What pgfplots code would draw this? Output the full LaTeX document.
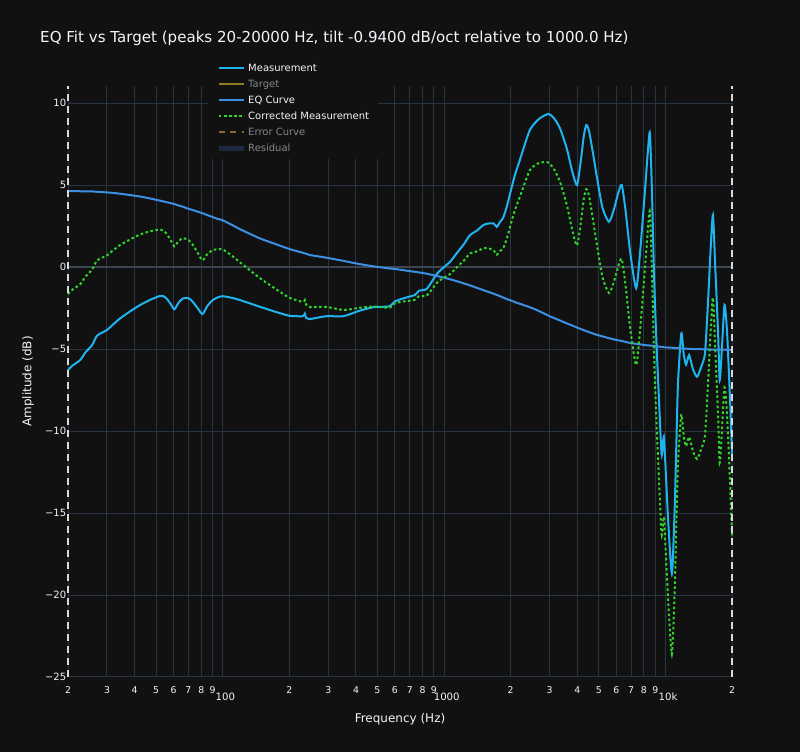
\documentclass[border=0pt]{standalone}
\usepackage{pgfplots}
\pgfplotsset{compat=1.18}
\usepackage{pgfplotstable}
\usepackage{fontspec}
\setmainfont{DejaVu Sans}
\definecolor{bg}{HTML}{111111}
\definecolor{gridc}{HTML}{283442}
\definecolor{zeroc}{HTML}{3C4552}
\definecolor{fg}{HTML}{F2F5FA}
\definecolor{dimtext}{HTML}{85878B}
\definecolor{measc}{HTML}{1FB4F0}
\definecolor{eqc}{HTML}{3C90E4}
\definecolor{corrc}{HTML}{30D42A}
\definecolor{targetc}{HTML}{8C7F22}
\definecolor{errc}{HTML}{8A6A34}
\definecolor{resc}{HTML}{1C2940}
\definecolor{vdash}{HTML}{D8D8D8}
\newcommand{\major}[1]{\raisebox{-5pt}{\hspace{4pt}\fontsize{7.6}{9}\selectfont #1}}
\pgfplotstableread{
f meas eq corr
20 -6.28 4.63 -1.65
21 -6.00 4.63 -1.37
22.7 -5.67 4.62 -1.05
24 -5.20 4.62 -0.58
25.7 -4.76 4.61 -0.15
27 -4.20 4.59 0.39
28.5 -4.00 4.57 0.57
30 -3.84 4.55 0.71
32 -3.50 4.52 1.02
34.4 -3.13 4.47 1.34
38 -2.72 4.39 1.67
42.3 -2.32 4.30 1.98
47 -2.00 4.18 2.18
50 -1.85 4.10 2.25
52 -1.77 4.05 2.28
54 -1.78 4.00 2.22
56 -1.95 3.95 2.00
58.5 -2.30 3.89 1.59
60.5 -2.58 3.84 1.26
63 -2.20 3.76 1.56
66 -1.92 3.68 1.76
70 -1.90 3.55 1.65
73 -2.10 3.48 1.38
77 -2.50 3.38 0.88
81 -2.87 3.28 0.41
85 -2.40 3.17 0.77
90 -2.02 3.05 1.03
95 -1.85 2.93 1.08
100 -1.78 2.85 1.07
110 -1.88 2.57 0.69
120 -2.02 2.30 0.28
147 -2.42 1.75 -0.67
175 -2.75 1.38 -1.37
200 -2.97 1.10 -1.87
230 -3.00 0.87 -2.13
235 -2.85 0.83 -2.02
238 -3.10 0.81 -2.29
248 -3.17 0.73 -2.44
270 -3.08 0.65 -2.43
294 -3.00 0.57 -2.43
350 -3.00 0.38 -2.62
380 -2.85 0.28 -2.57
416 -2.66 0.18 -2.48
480 -2.45 0.04 -2.41
540 -2.42 -0.05 -2.47
570 -2.38 -0.09 -2.47
600 -2.10 -0.12 -2.22
640 -1.95 -0.17 -2.12
700 -1.80 -0.25 -2.05
740 -1.70 -0.29 -1.99
770 -1.45 -0.33 -1.78
830 -1.36 -0.40 -1.76
870 -1.00 -0.46 -1.46
930 -0.40 -0.55 -0.95
1000 0.00 -0.65 -0.65
1067 0.33 -0.75 -0.42
1139 0.83 -0.86 -0.03
1230 1.40 -1.00 0.40
1310 1.95 -1.12 0.83
1400 2.20 -1.26 0.94
1506 2.56 -1.41 1.15
1580 2.65 -1.51 1.14
1676 2.66 -1.63 1.03
1730 2.45 -1.70 0.75
1792 2.76 -1.78 0.98
1850 3.00 -1.86 1.14
1927 3.75 -1.96 1.79
2024 4.90 -2.06 2.84
2100 5.70 -2.15 3.55
2200 6.52 -2.24 4.28
2320 7.50 -2.35 5.15
2440 8.35 -2.45 5.90
2580 8.80 -2.58 6.22
2707 9.07 -2.71 6.36
2850 9.25 -2.85 6.40
2950 9.33 -2.95 6.38
3012 9.30 -3.01 6.29
3150 9.05 -3.12 5.93
3340 8.46 -3.26 5.20
3590 7.20 -3.44 3.76
3800 5.80 -3.57 2.23
3990 5.00 -3.69 1.31
4150 6.50 -3.78 2.72
4280 8.00 -3.85 4.15
4394 8.66 -3.91 4.75
4520 8.30 -3.97 4.33
4700 7.00 -4.05 2.95
4916 5.40 -4.14 1.26
5200 3.60 -4.23 -0.63
5560 2.76 -4.34 -1.58
5850 3.50 -4.41 -0.91
6120 4.50 -4.47 0.03
6350 5.00 -4.51 0.49
6600 3.50 -4.56 -1.06
6950 0.80 -4.64 -3.84
7380 -1.30 -4.68 -5.98
7700 1.00 -4.72 -3.72
8100 4.80 -4.76 0.04
8350 7.20 -4.78 2.42
8514 8.15 -4.79 3.36
8700 4.50 -4.80 -0.30
8900 -0.80 -4.82 -5.62
9140 -5.00 -4.84 -9.84
9350 -8.00 -4.85 -12.85
9600 -11.36 -4.87 -16.23
9720 -11.00 -4.88 -15.88
9840 -10.35 -4.89 -15.24
10000 -12.00 -4.90 -16.90
10300 -15.50 -4.91 -20.41
10700 -18.70 -4.92 -23.62
11000 -15.00 -4.94 -19.94
11200 -11.00 -4.95 -15.95
11400 -7.10 -4.95 -12.05
11800 -4.04 -4.96 -9.00
12100 -5.30 -4.97 -10.27
12400 -5.95 -4.98 -10.93
12800 -5.37 -4.99 -10.36
13300 -6.20 -5.00 -11.20
13900 -6.69 -5.01 -11.70
14500 -6.10 -5.01 -11.11
15100 -5.25 -5.02 -10.27
15600 -2.00 -5.02 -7.02
16000 1.00 -5.03 -4.03
16400 3.17 -5.03 -1.86
16800 0.00 -5.03 -5.03
17300 -4.00 -5.04 -9.04
17600 -6.90 -5.04 -11.94
18000 -5.00 -5.04 -10.04
18500 -2.30 -5.04 -7.34
19000 -4.00 -5.05 -9.05
19600 -8.10 -5.05 -13.15
20000 -11.50 -5.05 -16.55
}\data
\begin{document}
\begin{tikzpicture}
\fill[bg] (0,0) rectangle (600pt,564pt);
\useasboundingbox (0,0) rectangle (600pt,564pt);
\begin{axis}[
  at={(51pt,56.25pt)}, anchor=south west,
  scale only axis, width=498pt, height=443.25pt,
  xmode=log, xmin=20, xmax=20000, ymin=-25, ymax=11.04,
  clip=false,
  axis line style={draw=none},
  major tick length=0pt, minor tick length=0pt,
  xminorticks=false, yminorticks=false,
  xmajorgrids, ymajorgrids,
  major grid style={color=gridc, line width=0.75pt},
  xtick={20,30,40,50,60,70,80,90,100,200,300,400,500,600,700,800,900,1000,2000,3000,4000,5000,6000,7000,8000,9000,10000,20000},
  xticklabels={2,3,4,5,6,7,8,9,\major{100},2,3,4,5,6,7,8,9,\major{1000},2,3,4,5,6,7,8,9,\major{10k},2},
  xticklabel style={font=\fontsize{7}{8}\selectfont, text=fg, anchor=base, inner sep=0pt, yshift=-12.3pt},
  ytick={-25,-20,-15,-10,-5,0,5,10},
  yticklabels={−25,−20,−15,−10,−5,0,5,10},
  yticklabel style={font=\fontsize{7.5}{9}\selectfont, text=fg, anchor=east, inner sep=0pt, xshift=-1.2pt},
  xlabel={Frequency (Hz)},
  ylabel={Amplitude (dB)},
  xlabel style={at={(axis description cs:0.5,-0.0711)}, anchor=center, font=\fontsize{9}{11}\selectfont, text=fg},
  ylabel style={at={(axis description cs:-0.0602,0.5)}, anchor=center, font=\fontsize{9}{11}\selectfont, text=fg},
  title={EQ Fit vs Target (peaks 20-20000 Hz, tilt -0.9400 dB/oct relative to 1000.0 Hz)},
  title style={at={(axis description cs:-0.0422,1.0593)}, anchor=base west, font=\fontsize{11.3}{13}\selectfont, text=fg, inner sep=0pt},
  legend style={at={(0.2108,1.048)}, anchor=north west, fill=bg, draw=none,
    font=\fontsize{7.5}{9}\selectfont, text=fg, inner xsep=6pt, inner ysep=3pt,
    row sep=2.5pt, cells={anchor=west},
    nodes={inner sep=1pt, text height=6pt, text depth=1.5pt}},
  legend image code/.code={\draw[#1] (0pt,0pt) -- (19pt,0pt);},
  legend cell align=left,
]
\addplot[forget plot, color=zeroc, line width=1.4pt] coordinates {(20,0) (20000,0)};
\addplot[color=measc, line width=1.5pt, smooth, tension=0.4] table[x=f, y=meas] {\data};
\addlegendentry{Measurement}
\addlegendimage{color=targetc, line width=1.5pt}
\addlegendentry{\textcolor{dimtext}{Target}}
\addplot[color=eqc, line width=1.5pt, smooth, tension=0.4] table[x=f, y=eq] {\data};
\addlegendentry{EQ Curve}
\addplot[color=corrc, line width=1.5pt, dash pattern=on 1.9pt off 1.9pt, smooth, tension=0.4] table[x=f, y=corr] {\data};
\addlegendentry{Corrected Measurement}
\addlegendimage{color=errc, line width=1.5pt, dash pattern=on 4.5pt off 4pt}
\addlegendentry{\textcolor{dimtext}{Error Curve}}
\addlegendimage{color=resc, line width=4pt}
\addlegendentry{\textcolor{dimtext}{Residual}}
\addplot[forget plot, color=vdash, line width=1.1pt, dash pattern=on 5.5pt off 3.5pt] coordinates {(20,-25) (20,11.04)};
\addplot[forget plot, color=vdash, line width=1.1pt, dash pattern=on 5.5pt off 3.5pt] coordinates {(20000,-25) (20000,11.04)};
\end{axis}
\end{tikzpicture}
\end{document}
